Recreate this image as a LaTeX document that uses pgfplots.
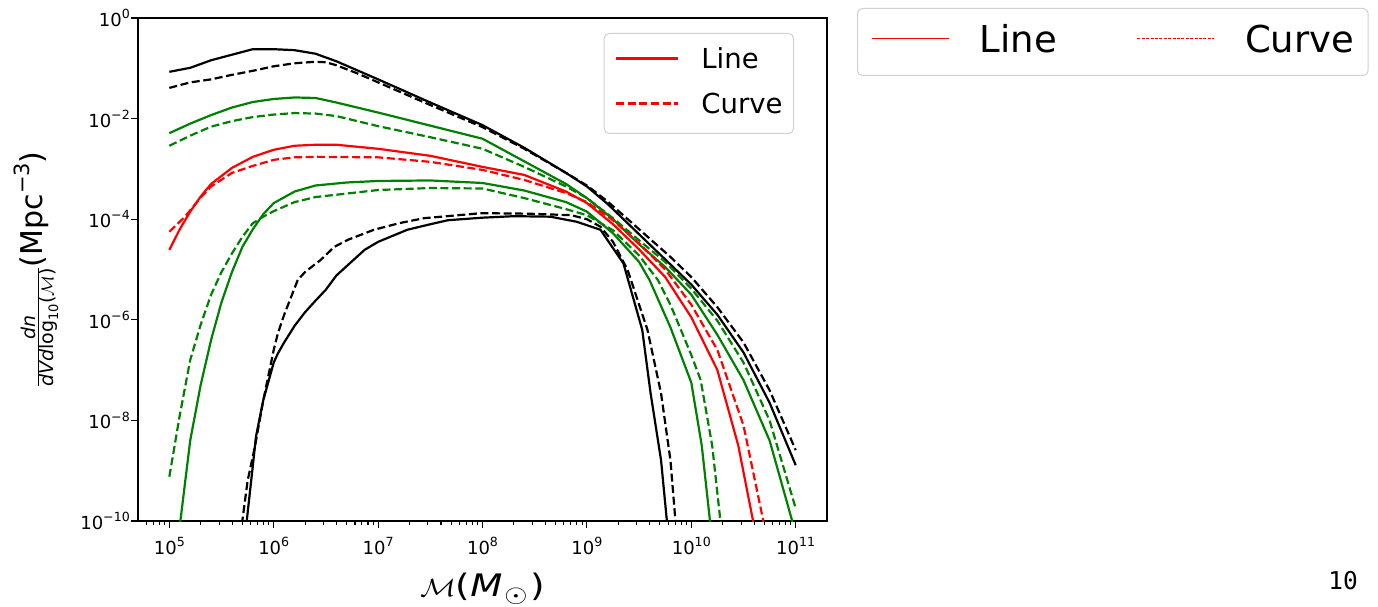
\documentclass[border=0pt]{standalone}
\usepackage{fontspec}
\setmainfont{DejaVu Sans}
\newfontfamily\monofont{DejaVu Sans Mono}
\usepackage{graphicx}
\usepackage{pgfplots}
\usepackage{pgfplotstable}
\pgfplotsset{compat=1.18}

\definecolor{mplgreen}{rgb}{0,0.5,0}
\definecolor{legedge}{gray}{0.82}

% superscript for text-mode powers of ten
\newcommand{\sps}[1]{\raisebox{0.43em}{\fontsize{12.6}{13}\selectfont #1}}

% ---- mass functions: M [M_sun], dn/dV/dlog10(M) [Mpc^-3] ----
\pgfplotstableread{
x y
1e5 8.51e-2
1.585e5 1.023e-1
2.512e5 1.445e-1
3.981e5 1.862e-1
6.310e5 2.399e-1
1e6 2.399e-1
1.585e6 2.291e-1
2.512e6 1.950e-1
3.981e6 1.380e-1
6.310e6 9.12e-2
1e7 6.026e-2
3.162e7 2.089e-2
1e8 7.413e-3
2.512e8 2.630e-3
6.310e8 8.318e-4
1e9 4.467e-4
1.585e9 1.995e-4
3.162e9 5.012e-5
6.310e9 1.259e-5
1e10 5.012e-6
1.778e10 1.259e-6
3.162e10 2.239e-7
5.623e10 2.239e-8
1e11 1.288e-9
}\blackSolidHigh

\pgfplotstableread{
x y
1e5 4.074e-2
1.585e5 5.248e-2
2.512e5 6.026e-2
3.981e5 7.413e-2
6.310e5 8.913e-2
1e6 1.096e-1
1.585e6 1.259e-1
2.512e6 1.349e-1
3.162e6 1.318e-1
3.981e6 1.148e-1
6.310e6 7.943e-2
1e7 5.248e-2
3.162e7 1.862e-2
1e8 6.761e-3
2.512e8 2.512e-3
6.310e8 8.318e-4
1e9 4.677e-4
1.585e9 2.239e-4
3.162e9 6.310e-5
6.310e9 1.778e-5
1e10 7.079e-6
1.778e10 1.778e-6
3.162e10 3.548e-7
5.623e10 3.981e-8
1e11 2.570e-9
}\blackDashedHigh

\pgfplotstableread{
x y
1e5 5.129e-3
1.585e5 7.943e-3
2.512e5 1.175e-2
3.981e5 1.660e-2
6.310e5 2.138e-2
1e6 2.455e-2
1.585e6 2.630e-2
2.512e6 2.570e-2
3.981e6 2.089e-2
1e7 1.318e-2
3.162e7 7.244e-3
1e8 3.981e-3
2.512e8 1.413e-3
6.310e8 5.012e-4
1e9 2.630e-4
1.778e9 1e-4
3.162e9 3.162e-5
5.623e9 1.122e-5
1e10 3.162e-6
1.778e10 5.012e-7
3.162e10 6.310e-8
5.623e10 3.981e-9
9.550e10 7.943e-11
}\greenSolidHigh

\pgfplotstableread{
x y
1e5 2.884e-3
1.585e5 4.571e-3
2.512e5 6.918e-3
3.981e5 8.913e-3
6.310e5 1.072e-2
1e6 1.202e-2
1.585e6 1.288e-2
2.512e6 1.259e-2
3.981e6 1.122e-2
1e7 7.079e-3
3.162e7 4.266e-3
1e8 2.512e-3
2.512e8 1.096e-3
6.310e8 4.467e-4
1e9 2.630e-4
1.778e9 1.047e-4
3.162e9 3.802e-5
5.623e9 1.413e-5
1e10 4.169e-6
1.778e10 9.550e-7
3.162e10 1.413e-7
5.623e10 1e-8
1e11 1.778e-10
}\greenDashedHigh

\pgfplotstableread{
x y
1e5 2.455e-5
1.259e5 6.310e-5
1.585e5 1.413e-4
1.995e5 2.818e-4
2.512e5 5.012e-4
3.981e5 1.047e-3
6.310e5 1.738e-3
1e6 2.399e-3
1.585e6 2.884e-3
2.512e6 3.020e-3
3.981e6 3.020e-3
1e7 2.512e-3
3.162e7 1.820e-3
1e8 1.096e-3
2.512e8 7.586e-4
6.310e8 3.548e-4
1e9 2.089e-4
1.778e9 7.943e-5
3.162e9 2.512e-5
5.623e9 7.079e-6
1e10 1.122e-6
1.778e10 1e-7
2.818e10 3.162e-9
4.169e10 5.012e-11
}\redSolid

\pgfplotstableread{
x y
1e5 5.623e-5
1.413e5 1.122e-4
1.995e5 2.692e-4
2.512e5 4.467e-4
3.981e5 8.318e-4
6.310e5 1.148e-3
1e6 1.514e-3
1.585e6 1.698e-3
2.512e6 1.738e-3
1e7 1.698e-3
3.162e7 1.380e-3
1e8 9.550e-4
2.512e8 6.026e-4
6.310e8 3.311e-4
1e9 2.188e-4
1.778e9 9.550e-5
3.162e9 3.311e-5
5.623e9 1e-5
1e10 1.995e-6
1.778e10 2.512e-7
3.162e10 7.943e-9
5.248e10 5.012e-11
}\redDashed

\pgfplotstableread{
x y
1.259e5 7.943e-11
1.585e5 3.981e-9
1.995e5 5.012e-8
2.512e5 3.981e-7
3.162e5 2.239e-6
3.981e5 8.913e-6
5.012e5 2.818e-5
6.310e5 6.310e-5
7.943e5 1.259e-4
1e6 2.089e-4
1.585e6 3.548e-4
2.512e6 4.677e-4
5.012e6 5.370e-4
1e7 5.754e-4
3.162e7 5.888e-4
1e8 5.248e-4
2.512e8 3.715e-4
6.310e8 2.188e-4
1e9 1.413e-4
1.778e9 5.248e-5
3.162e9 1.413e-5
3.981e9 6.166e-6
6.310e9 7.079e-7
1e10 5.623e-8
1.259e10 3.162e-9
1.585e10 3.981e-11
}\greenSolidLow

\pgfplotstableread{
x y
1e5 7.586e-10
1.259e5 1.259e-8
1.585e5 1.585e-7
1.995e5 7.943e-7
2.512e5 3.162e-6
3.162e5 8.913e-6
3.981e5 2.089e-5
5.012e5 4.467e-5
6.310e5 8.318e-5
7.943e5 1.122e-4
1e6 1.445e-4
1.585e6 2.188e-4
2.512e6 2.754e-4
1e7 3.802e-4
3.162e7 4.169e-4
1e8 4.074e-4
2.512e8 2.630e-4
6.310e8 1.585e-4
1e9 1.202e-4
1.778e9 6.026e-5
3.162e9 1.905e-5
4.786e9 6.166e-6
6.310e9 1.995e-6
1e10 1.995e-7
1.230e10 6.310e-8
1.585e10 3.162e-9
1.995e10 3.981e-11
}\greenDashedLow

\pgfplotstableread{
x y
5.248e5 3.981e-11
6.310e5 1.259e-9
6.761e5 4.786e-9
7.943e5 2.512e-8
1e6 1.413e-7
1.096e6 2.138e-7
1.259e6 3.548e-7
1.585e6 7.586e-7
1.995e6 1.413e-6
2.512e6 2.399e-6
3.162e6 3.981e-6
3.981e6 7.586e-6
7.413e6 2.455e-5
1e7 3.548e-5
1.905e7 6.166e-5
3.162e7 7.943e-5
4.677e7 9.550e-5
1e8 1.072e-4
1.995e8 1.148e-4
4.467e8 1.122e-4
7.943e8 8.913e-5
1.349e9 6.166e-5
2.239e9 1.318e-5
3.388e9 6.310e-7
4.074e9 3.467e-8
5.129e9 1.622e-9
6.026e9 5.012e-11
}\blackSolidLow

\pgfplotstableread{
x y
4.786e5 5.012e-11
5.623e5 6.310e-10
6.607e5 3.020e-9
7.943e5 2.512e-8
1e6 2.512e-7
1.096e6 5.370e-7
1.259e6 1.259e-6
1.698e6 6.166e-6
1.995e6 8.913e-6
2.818e6 1.549e-5
3.802e6 2.818e-5
5.129e6 3.890e-5
9.120e6 6.166e-5
1.585e7 8.318e-5
2.754e7 1.047e-4
9.772e7 1.318e-4
2.692e8 1.288e-4
7.079e8 1.202e-4
1e9 1e-4
1.349e9 7.079e-5
1.778e9 3.548e-5
2.455e9 9.772e-6
3.802e9 6.310e-7
5.129e9 3.467e-8
6.310e9 1.622e-9
7.244e9 5.012e-11
}\blackDashedLow

\begin{document}
\begin{tikzpicture}
\useasboundingbox (0pt,0pt) rectangle (1378pt,607pt);

\begin{axis}[
  at={(138pt,86pt)}, anchor=south west,
  scale only axis, width=689pt, height=503pt,
  xmode=log, ymode=log,
  xmin=5.012e4, xmax=1.995e11, ymin=1e-10, ymax=1,
  axis line style={line width=1.3pt},
  tick align=outside, xtick pos=bottom, ytick pos=left,
  every tick/.style={black, line width=1.1pt},
  major tick length=7pt, minor tick length=4pt,
  xtick={1e5,1e6,1e7,1e8,1e9,1e10,1e11},
  xticklabels={10\sps{5},10\sps{6},10\sps{7},10\sps{8},10\sps{9},10\sps{10},10\sps{11}},
  minor xtick={6e4,7e4,8e4,9e4,
    2e5,3e5,4e5,5e5,6e5,7e5,8e5,9e5,
    2e6,3e6,4e6,5e6,6e6,7e6,8e6,9e6,
    2e7,3e7,4e7,5e7,6e7,7e7,8e7,9e7,
    2e8,3e8,4e8,5e8,6e8,7e8,8e8,9e8,
    2e9,3e9,4e9,5e9,6e9,7e9,8e9,9e9,
    2e10,3e10,4e10,5e10,6e10,7e10,8e10,9e10},
  ytick={1e-10,1e-8,1e-6,1e-4,1e-2,1},
  yticklabels={10\sps{−10},10\sps{−8},10\sps{−6},10\sps{−4},10\sps{−2},10\sps{0}},
  yminorticks=false,
  ticklabel style={font=\fontsize{18}{20}\selectfont},
  yticklabel style={inner sep=0pt, xshift=-1pt},
  xticklabel style={inner sep=0pt, yshift=-9pt},
  xlabel={\scalebox{1.2}[1]{$\mathcal{M}$(\textit{M}\kern1.5pt\raisebox{-6pt}{\fontsize{23}{24}\selectfont$\odot$}\kern2.5pt)}},
  xlabel style={at={(axis description cs:0.5,-0.135)}, anchor=center, font=\fontsize{31}{34}\selectfont},
  ylabel={{\fontsize{19}{22}\selectfont$\frac{\mbox{\itshape dn}}{\mbox{\itshape dVd\upshape log\raisebox{-0.25em}{\fontsize{13}{14}\selectfont 10}($\mathcal{M}$)}}$}(Mpc\raisebox{0.45em}{\fontsize{21}{22}\selectfont −3})},
  ylabel style={at={(axis description cs:-0.148,0.5)}, anchor=center, font=\fontsize{30}{32}\selectfont},
  legend style={at={(rel axis cs:1,1)}, anchor=north east, xshift=-33pt, yshift=-15pt,
    draw=legedge, line width=1pt, rounded corners=5pt, fill=white,
    font=\fontsize{27.5}{30}\selectfont,
    inner xsep=11pt, inner ysep=14pt, row sep=18pt, column sep=22pt,
    cells={anchor=base west},
    nodes={inner sep=0pt, text height=21pt, text depth=6pt}},
  legend image code/.code={\draw[#1] (0pt,10pt) -- (62pt,10pt);},
  every axis plot/.append style={line width=2.2pt},
  dashed/.style={dash pattern=on 8pt off 3.6pt},
]
\addplot[black, forget plot] table {\blackSolidHigh};
\addplot[black, dashed, forget plot] table {\blackDashedHigh};
\addplot[mplgreen, forget plot] table {\greenSolidHigh};
\addplot[mplgreen, dashed, forget plot] table {\greenDashedHigh};
\addplot[red, forget plot] table {\redSolid};
\addplot[red, dashed, forget plot] table {\redDashed};
\addplot[mplgreen, forget plot] table {\greenSolidLow};
\addplot[mplgreen, dashed, forget plot] table {\greenDashedLow};
\addplot[black, forget plot] table {\blackSolidLow};
\addplot[black, dashed, forget plot] table {\blackDashedLow};
\addlegendimage{red, line width=2.2pt}
\addlegendentry{Line}
\addlegendimage{red, line width=2.2pt, dash pattern=on 8pt off 3.6pt}
\addlegendentry{Curve}
\end{axis}

% stand-alone horizontal legend to the right
\begin{axis}[
  at={(0pt,0pt)}, anchor=south west,
  scale only axis, width=1378pt, height=607pt,
  hide axis, xmin=0, xmax=1378, ymin=0, ymax=607,
  legend columns=2,
  legend style={at={(axis cs:857,599)}, anchor=north west,
    draw=legedge, line width=1pt, rounded corners=5pt, fill=white,
    font=\fontsize{37}{40}\selectfont,
    inner xsep=14pt, inner ysep=16pt,
    cells={anchor=base west},
    nodes={inner sep=0pt, text height=28pt, text depth=7pt},
    /tikz/every odd column/.style={column sep=30pt},
    /tikz/every even column/.style={column sep=80pt}},
  legend image code/.code={\draw[#1] (0pt,14pt) -- (77pt,14pt);},
]
\addlegendimage{red, line width=1.3pt}
\addlegendentry{Line}
\addlegendimage{red, line width=1.1pt, dash pattern=on 3pt off 1.4pt}
\addlegendentry{Curve}
\end{axis}

\node[font=\monofont\fontsize{24.5}{26}\selectfont, anchor=base] at (1343pt,17pt) {10};
\end{tikzpicture}
\end{document}
